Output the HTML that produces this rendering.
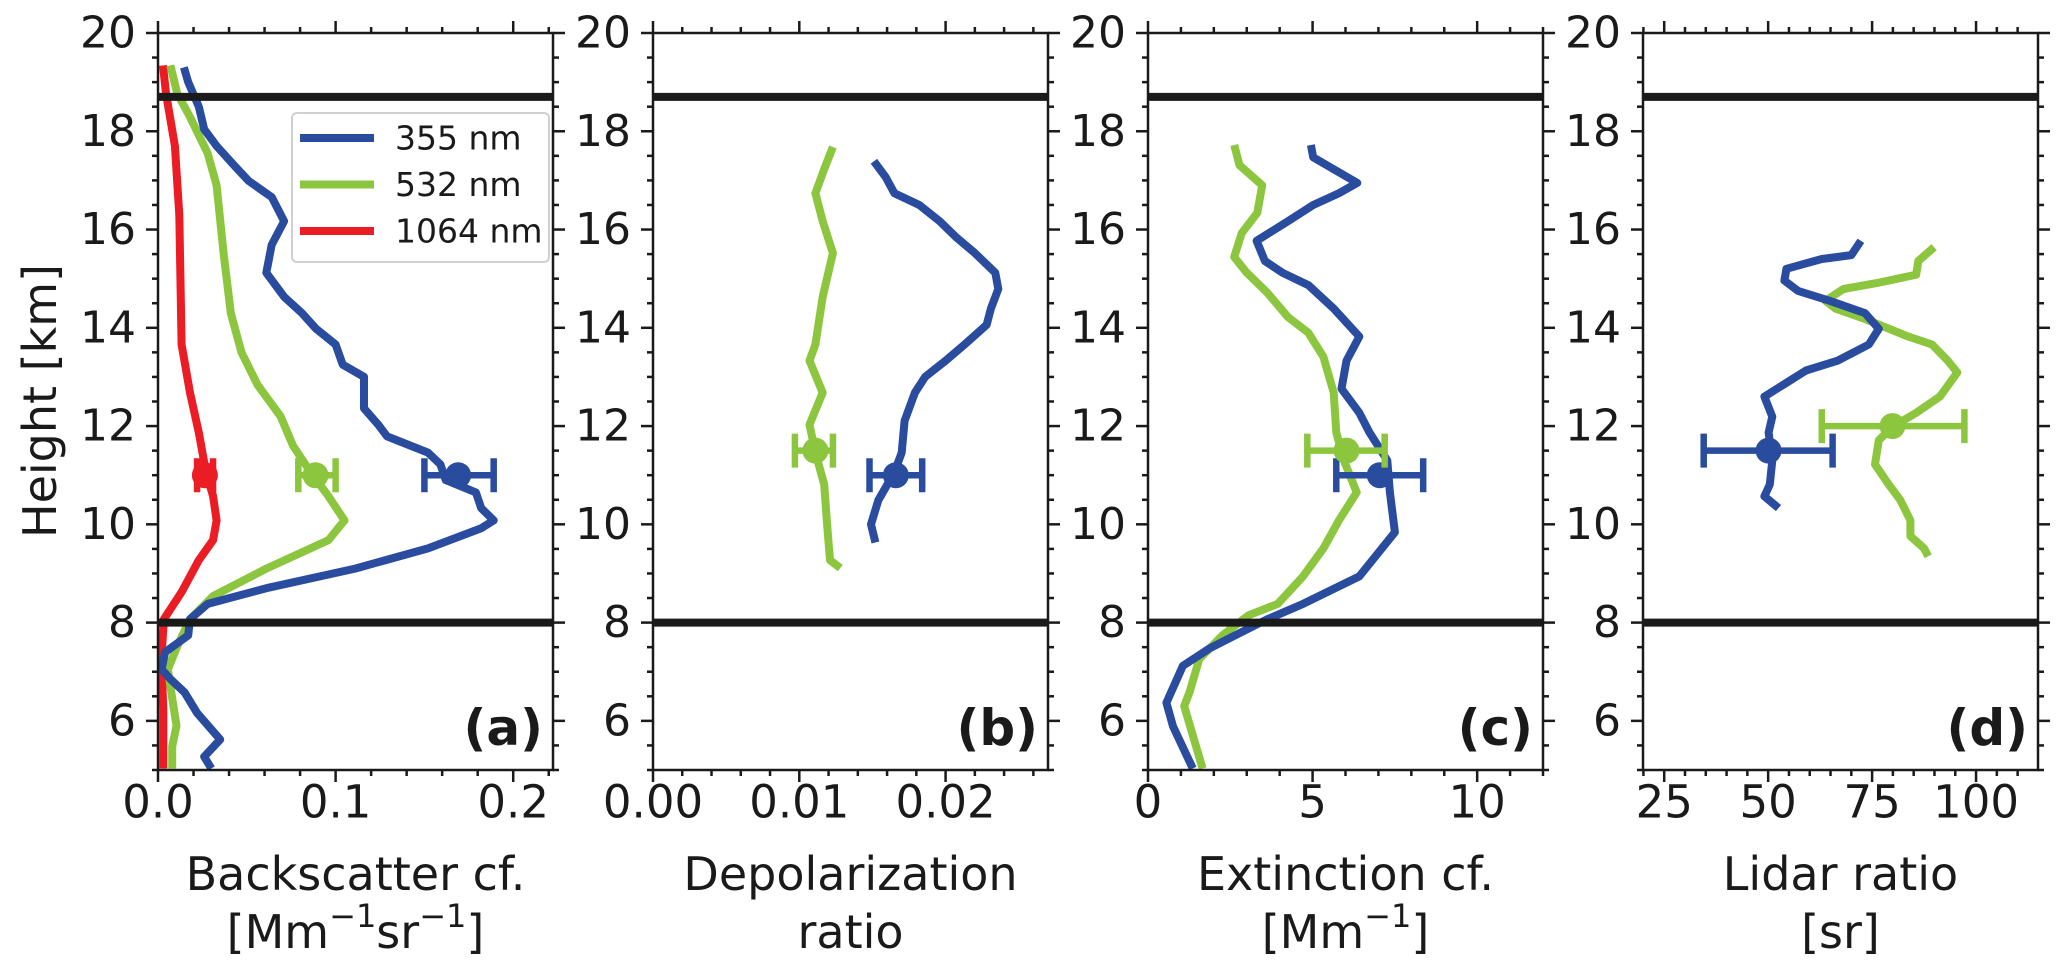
<!DOCTYPE html>
<html><head><meta charset="utf-8"><style>
html,body{margin:0;padding:0;background:#fff;}
svg{display:block;font-family:"DejaVu Sans","Liberation Sans",sans-serif;}
</style></head><body>
<svg id="fig" width="2067" height="979" viewBox="0 0 2067 979" xmlns="http://www.w3.org/2000/svg"></svg>
<script>
// ---------- data ----------
const yRange = [5, 20];
const yTicks = [6, 8, 10, 12, 14, 16, 18, 20];
const layerLines = [18.7, 8.0];

const aXRange = [0, 0.2224];
const aXTicks = [0, 0.1, 0.2];
const aXTickLabels = ["0.0", "0.1", "0.2"];
const aBlueH = [19.3,19.0,18.5,18.04,17.7,17.3,16.99,16.66,16.17,15.69,15.12,14.63,14.3,13.98,13.66,13.25,13.0,12.36,12.03,11.79,11.46,11.22,10.9,10.65,10.33,10.08,9.92,9.51,9.1,8.7,8.38,8.07,7.74,7.4,7.05,6.85,6.58,6.16,5.62,5.27,5.03];
const aBlueV = [0.0146,0.017,0.023,0.026,0.033,0.043,0.051,0.064,0.071,0.064,0.061,0.071,0.081,0.089,0.100,0.104,0.116,0.116,0.124,0.129,0.152,0.159,0.162,0.179,0.182,0.189,0.182,0.152,0.111,0.061,0.028,0.018,0.017,0.004,0.002,0.007,0.015,0.022,0.035,0.026,0.030];
const aGreenH = [19.34,18.77,18.29,17.55,16.9,15.5,14.3,13.5,12.84,12.2,11.6,11.06,10.57,10.08,9.68,9.1,8.54,8.07,7.53,7.05,6.58,5.9,5.48,5.03];
const aGreenV = [0.007,0.0108,0.018,0.028,0.033,0.037,0.041,0.047,0.056,0.069,0.076,0.086,0.096,0.105,0.096,0.061,0.031,0.018,0.011,0.0056,0.0075,0.0104,0.008,0.008];
const aRedH = [19.34,18.77,17.7,16.3,13.66,12.68,11.87,11.06,10.57,10.08,9.68,9.27,8.62,8.07,7.26,6.23,5.03];
const aRedV = [0.0028,0.0045,0.0095,0.012,0.0133,0.018,0.023,0.027,0.031,0.033,0.031,0.023,0.0133,0.0033,0.0019,0.003,0.003];
const aErrH = [11.0, 11.0, 11.0];
const aErrV = [0.169, 0.0887, 0.0264];
const aErrLo = [0.150, 0.079, 0.022];
const aErrHi = [0.189, 0.100, 0.031];

const bXRange = [0, 0.027];
const bXTicks = [0, 0.01, 0.02];
const bXTickLabels = ["0.00", "0.01", "0.02"];
const bBlueH = [17.39,17.07,16.74,16.5,16.17,15.85,15.52,15.12,14.79,14.39,14.06,13.66,13.33,13.0,12.68,12.11,11.46,11.06,10.49,10.0,9.63];
const bBlueV = [0.0151,0.0159,0.0165,0.0182,0.0196,0.0207,0.022,0.0234,0.0236,0.0231,0.0228,0.0213,0.02,0.0186,0.0179,0.0172,0.017,0.0165,0.0154,0.0149,0.0152];
const bGreenH = [17.68,17.23,16.74,16.17,15.52,14.63,13.66,13.33,12.68,12.03,11.46,10.81,10.0,9.27,9.11];
const bGreenV = [0.0123,0.0117,0.0111,0.0116,0.0123,0.0116,0.0111,0.0107,0.0116,0.0107,0.0111,0.0117,0.0119,0.0121,0.0128];
const bErrH = [11.0, 11.5];
const bErrV = [0.0166, 0.0111];
const bErrLo = [0.0148, 0.0097];
const bErrHi = [0.0184, 0.0123];

const cXRange = [0, 12];
const cXTicks = [0, 5, 10];
const cXTickLabels = ["0", "5", "10"];
const cBlueH = [17.72,17.47,16.95,16.74,16.5,16.17,15.77,15.36,15.12,14.87,14.39,13.82,13.33,12.76,12.27,11.87,11.3,10.65,9.84,8.94,8.38,8.07,7.95,7.47,7.12,6.37,5.89,5.03];
const cBlueV = [4.95,5.02,6.36,5.8,5.02,4.25,3.3,3.55,4.09,4.87,5.64,6.42,6.03,5.88,6.42,6.73,7.27,7.35,7.5,6.42,4.71,3.63,3.26,1.86,1.06,0.56,0.76,1.36];
const cGreenH = [17.72,17.31,16.9,16.34,15.93,15.44,15.12,14.71,14.22,13.9,13.41,12.68,11.87,11.3,10.65,10.08,9.51,8.94,8.38,8.15,7.74,7.26,6.58,6.3,5.03];
const cGreenV = [2.62,2.78,3.47,3.32,2.85,2.62,3.0,3.63,4.25,4.87,5.33,5.64,5.72,5.95,6.34,5.8,5.33,4.71,3.94,3.06,2.26,1.56,1.26,1.1,1.66];
const cErrH = [11.0, 11.5];
const cErrV = [7.04, 6.03];
const cErrLo = [5.72, 4.84];
const cErrHi = [8.36, 7.19];

const dXRange = [19.9, 114.9];
const dXTicks = [25, 50, 75, 100];
const dXTickLabels = ["25", "50", "75", "100"];
const dBlueH = [15.77,15.48,15.4,15.2,14.96,14.75,14.55,14.3,13.98,13.66,13.33,13.13,12.88,12.6,12.19,11.87,11.3,10.81,10.57,10.33];
const dBlueV = [72.3,70.0,62.9,54.4,53.9,57.2,64.8,73.3,76.6,74.2,66.7,59.1,54.4,49.1,51.0,50.1,51.0,50.4,49.1,52.5];
const dGreenH = [15.64,15.36,15.08,14.91,14.79,14.55,14.39,14.18,13.82,13.66,13.33,13.09,12.6,12.27,11.99,11.71,11.22,10.81,10.49,10.08,9.76,9.51,9.35];
const dGreenV = [89.9,86.1,85.6,76.1,68.1,63.8,66.2,73.3,83.7,89.4,93.2,95.5,91.3,85.6,79.9,76.6,75.7,79.0,81.8,84.2,84.2,87.5,88.5];
const dErrH = [11.5, 12.0];
const dErrV = [50.1, 79.9];
const dErrLo = [34.5, 62.9];
const dErrHi = [65.5, 97.2];

// ---------- drawing ----------
const BLUE = "#2a4c9f", GREEN = "#8cc63f", RED = "#ec1c24";
const NS = "http://www.w3.org/2000/svg";
const svg = document.getElementById("fig");
const TOP = 33, BOT = 770, PW = 395;
const lefts = [158, 653, 1148, 1643];
function mk(tag, attrs, parent) {
  const e = document.createElementNS(NS, tag);
  for (const k in attrs) e.setAttribute(k, attrs[k]);
  (parent || svg).appendChild(e);
  return e;
}
function yOf(h) { return BOT - (h - yRange[0]) / (yRange[1] - yRange[0]) * (BOT - TOP); }

function panel(idx, letter, xr, xt, xtl, minorStep, series, errs, label1, label2, sup) {
  const L = lefts[idx], R = L + PW;
  const xOf = v => L + (v - xr[0]) / (xr[1] - xr[0]) * PW;
  const g = mk("g", {});
  
  
  series.forEach(s => {
    const pts = s.h.map((h, i) => xOf(s.v[i]).toFixed(1) + "," + yOf(h).toFixed(1)).join(" ");
    const pl = mk("polyline", {points: pts, fill: "none", stroke: s.c, "stroke-width": 8, "stroke-linejoin": "round"}, g);
    
    
  });
  errs.forEach(e => {
    const y = yOf(e.h);
    const eg = mk("g", {stroke: e.c, "stroke-width": 6.5, fill: e.c}, g);
    
    
    mk("line", {x1: xOf(e.lo), x2: xOf(e.hi), y1: y, y2: y}, eg);
    mk("line", {x1: xOf(e.lo), x2: xOf(e.lo), y1: y - 17, y2: y + 17}, eg);
    mk("line", {x1: xOf(e.hi), x2: xOf(e.hi), y1: y - 17, y2: y + 17}, eg);
    mk("circle", {cx: xOf(e.v), cy: y, r: 13, stroke: "none"}, eg);
  });
  layerLines.forEach(h => {
    const ln = mk("line", {x1: L, x2: R, y1: yOf(h), y2: yOf(h), stroke: "#1a1a1a", "stroke-width": 8}, g);
    
    
  });
  const fr = mk("rect", {x: L, y: TOP, width: PW, height: BOT - TOP, fill: "none", stroke: "#1a1a1a", "stroke-width": 2.5}, g);
  
  
  for (let h = yRange[0]; h <= yRange[1] + 1e-9; h += 0.5) {
    const major = Math.abs(h - Math.round(h)) < 1e-9 && Math.round(h) % 2 === 0;
    const len = major ? 12 : 6;
    const y = yOf(h);
    mk("line", {x1: L - len, x2: L, y1: y, y2: y, stroke: "#1a1a1a", "stroke-width": 2.5}, g);
    mk("line", {x1: R, x2: R + len, y1: y, y2: y, stroke: "#1a1a1a", "stroke-width": 2.5}, g);
  }
  yTicks.forEach(h => {
    const t = mk("text", {x: L - 22, y: yOf(h), "text-anchor": "end", "dominant-baseline": "central", "font-size": 44, fill: "#1a1a1a"}, g);
    t.textContent = String(h);
    
    
  });
  const start = Math.ceil(xr[0] / minorStep - 1e-9);
  for (let k = start; k * minorStep <= xr[1] + 1e-9; k++) {
    const v = k * minorStep;
    const major = xt.some(t => Math.abs(t - v) < minorStep / 10);
    const len = major ? 12 : 6;
    const x = xOf(v);
    mk("line", {x1: x, x2: x, y1: BOT, y2: BOT + len, stroke: "#1a1a1a", "stroke-width": 2.5}, g);
    mk("line", {x1: x, x2: x, y1: TOP - len, y2: TOP, stroke: "#1a1a1a", "stroke-width": 2.5}, g);
  }
  xt.forEach((v, i) => {
    const t = mk("text", {x: xOf(v), y: 802, "text-anchor": "middle", "dominant-baseline": "central", "font-size": 45, fill: "#1a1a1a"}, g);
    t.textContent = xtl[i];
    
    
  });
  const t1 = mk("text", {x: L + PW / 2, y: 874, "text-anchor": "middle", "dominant-baseline": "central", "font-size": 46, fill: "#1a1a1a"}, g);
  t1.textContent = label1;
  
  
  const t2 = mk("text", {x: L + PW / 2, y: 932, "text-anchor": "middle", "dominant-baseline": "central", "font-size": 46, fill: "#1a1a1a"}, g);
  
  
  if (sup) t2.innerHTML = label2; else t2.textContent = label2;
  const pl = mk("text", {x: R - 10, y: 728, "text-anchor": "end", "dominant-baseline": "central", "font-size": 50, "font-weight": "bold", fill: "#1a1a1a"}, g);
  pl.textContent = "(" + letter + ")";
  
  
}

panel(0, "a", aXRange, aXTicks, aXTickLabels, 0.02,
  [{h: aRedH, v: aRedV, c: RED, n: "1064"}, {h: aGreenH, v: aGreenV, c: GREEN, n: "532"}, {h: aBlueH, v: aBlueV, c: BLUE, n: "355"}],
  [{h: aErrH[0], v: aErrV[0], lo: aErrLo[0], hi: aErrHi[0], c: BLUE, n: "355"},
   {h: aErrH[1], v: aErrV[1], lo: aErrLo[1], hi: aErrHi[1], c: GREEN, n: "532"},
   {h: aErrH[2], v: aErrV[2], lo: aErrLo[2], hi: aErrHi[2], c: RED, n: "1064"}],
  "Backscatter cf.", '[Mm<tspan dy="-16" font-size="32">\u22121</tspan><tspan dy="16">sr</tspan><tspan dy="-16" font-size="32">\u22121</tspan><tspan dy="16">]</tspan>', true);
panel(1, "b", bXRange, bXTicks, bXTickLabels, 0.002,
  [{h: bGreenH, v: bGreenV, c: GREEN, n: "532"}, {h: bBlueH, v: bBlueV, c: BLUE, n: "355"}],
  [{h: bErrH[0], v: bErrV[0], lo: bErrLo[0], hi: bErrHi[0], c: BLUE, n: "355"},
   {h: bErrH[1], v: bErrV[1], lo: bErrLo[1], hi: bErrHi[1], c: GREEN, n: "532"}],
  "Depolarization", "ratio", false);
panel(2, "c", cXRange, cXTicks, cXTickLabels, 1,
  [{h: cGreenH, v: cGreenV, c: GREEN, n: "532"}, {h: cBlueH, v: cBlueV, c: BLUE, n: "355"}],
  [{h: cErrH[0], v: cErrV[0], lo: cErrLo[0], hi: cErrHi[0], c: BLUE, n: "355"},
   {h: cErrH[1], v: cErrV[1], lo: cErrLo[1], hi: cErrHi[1], c: GREEN, n: "532"}],
  "Extinction cf.", '[Mm<tspan dy="-16" font-size="32">\u22121</tspan><tspan dy="16">]</tspan>', true);
panel(3, "d", dXRange, dXTicks, dXTickLabels, 5,
  [{h: dGreenH, v: dGreenV, c: GREEN, n: "532"}, {h: dBlueH, v: dBlueV, c: BLUE, n: "355"}],
  [{h: dErrH[0], v: dErrV[0], lo: dErrLo[0], hi: dErrHi[0], c: BLUE, n: "355"},
   {h: dErrH[1], v: dErrV[1], lo: dErrLo[1], hi: dErrHi[1], c: GREEN, n: "532"}],
  "Lidar ratio", "[sr]", false);

const yt = mk("text", {x: 0, y: 0, transform: "translate(40,401) rotate(-90)", "text-anchor": "middle", "dominant-baseline": "central", "font-size": 46, fill: "#1a1a1a"});
yt.textContent = "Height [km]";



const lg = mk("g", {});


mk("rect", {x: 292, y: 113, width: 257, height: 149, rx: 5, fill: "#fff", "fill-opacity": 0.85, stroke: "#d0d0d0", "stroke-width": 2}, lg);
const legNames = ["355 nm", "532 nm", "1064 nm"];
const legCols = [BLUE, GREEN, RED];
legNames.forEach((nm, i) => {
  const y = 138 + i * 46.5;
  const eg = mk("g", {}, lg);
  
  
  mk("line", {x1: 300, x2: 374, y1: y, y2: y, stroke: legCols[i], "stroke-width": 8}, eg);
  const t = mk("text", {x: 395, y: y, "dominant-baseline": "central", "font-size": 33, fill: "#1a1a1a"}, eg);
  t.textContent = nm;
});
</script>
</body></html>
